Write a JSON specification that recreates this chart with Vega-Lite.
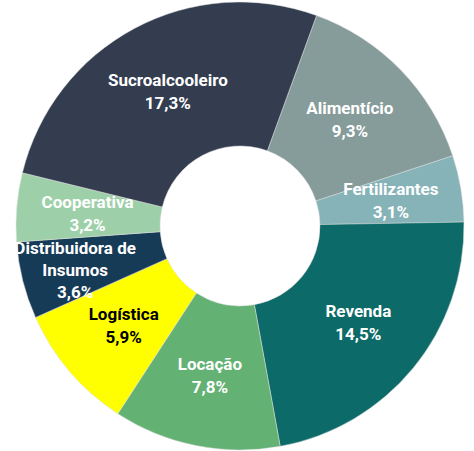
{
  "$schema": "https://vega.github.io/schema/vega-lite/v6.json",
  "width": 474,
  "height": 451,
  "autosize": {"type": "fit", "contains": "padding"},
  "padding": {"left": 6, "top": 1, "right": 0, "bottom": 0},
  "background": "white",
  "config": {"view": {"stroke": null}},
  "data": {"values": [
    {"setor": "Alimentício", "valor": 9.3, "ord": 1, "rotulo": "Alimentício\n9,3%"},
    {"setor": "Fertilizantes", "valor": 3.1, "ord": 2, "rotulo": "Fertilizantes\n3,1%"},
    {"setor": "Revenda", "valor": 14.5, "ord": 3, "rotulo": "Revenda\n14,5%"},
    {"setor": "Locação", "valor": 7.8, "ord": 4, "rotulo": "Locação\n7,8%"},
    {"setor": "Logística", "valor": 5.9, "ord": 5, "rotulo": "Logística\n5,9%"},
    {"setor": "Distribuidora de Insumos", "valor": 3.6, "ord": 6, "rotulo": "Distribuidora de\nInsumos\n3,6%"},
    {"setor": "Cooperativa", "valor": 3.2, "ord": 7, "rotulo": "Cooperativa\n3,2%"},
    {"setor": "Sucroalcooleiro", "valor": 17.3, "ord": 8, "rotulo": "Sucroalcooleiro\n17,3%"}
  ]},
  "encoding": {
    "theta": {"field": "valor", "type": "quantitative", "stack": true, "scale": {"range": [0.349, 6.632]}},
    "order": {"field": "ord", "type": "quantitative"}
  },
  "layer": [
    {
      "mark": {"type": "arc", "innerRadius": 80, "outerRadius": 224, "stroke": "#dddddd", "strokeWidth": 0.5},
      "encoding": {
        "color": {
          "field": "setor", "type": "nominal", "legend": null,
          "scale": {
            "domain": ["Alimentício", "Fertilizantes", "Revenda", "Locação", "Logística", "Distribuidora de Insumos", "Cooperativa", "Sucroalcooleiro"],
            "range": ["#869C9B", "#85B3B8", "#0C6A68", "#63B274", "#FFFF00", "#163B56", "#9DD0A9", "#333D4F"]
          }
        }
      }
    },
    {
      "mark": {"type": "text", "radius": 153, "dy": -10.5, "font": "Roboto", "fontWeight": "bold", "fontSize": 17, "lineHeight": 23, "lineBreak": "\n", "align": "center", "baseline": "middle"},
      "encoding": {
        "text": {"field": "rotulo"},
        "color": {"condition": {"test": "datum.setor == 'Logística'", "value": "#000000"}, "value": "#ffffff"},
        "opacity": {"condition": {"test": "datum.ord == 6", "value": 0}, "value": 1}
      }
    },
    {
      "mark": {"type": "text", "radius": 170, "dy": -18, "font": "Roboto", "fontWeight": "bold", "fontSize": 17, "lineHeight": 22, "lineBreak": "\n", "align": "center", "baseline": "middle", "color": "#ffffff"},
      "encoding": {
        "text": {"field": "rotulo"},
        "opacity": {"condition": {"test": "datum.ord == 6", "value": 1}, "value": 0}
      }
    }
  ]
}
